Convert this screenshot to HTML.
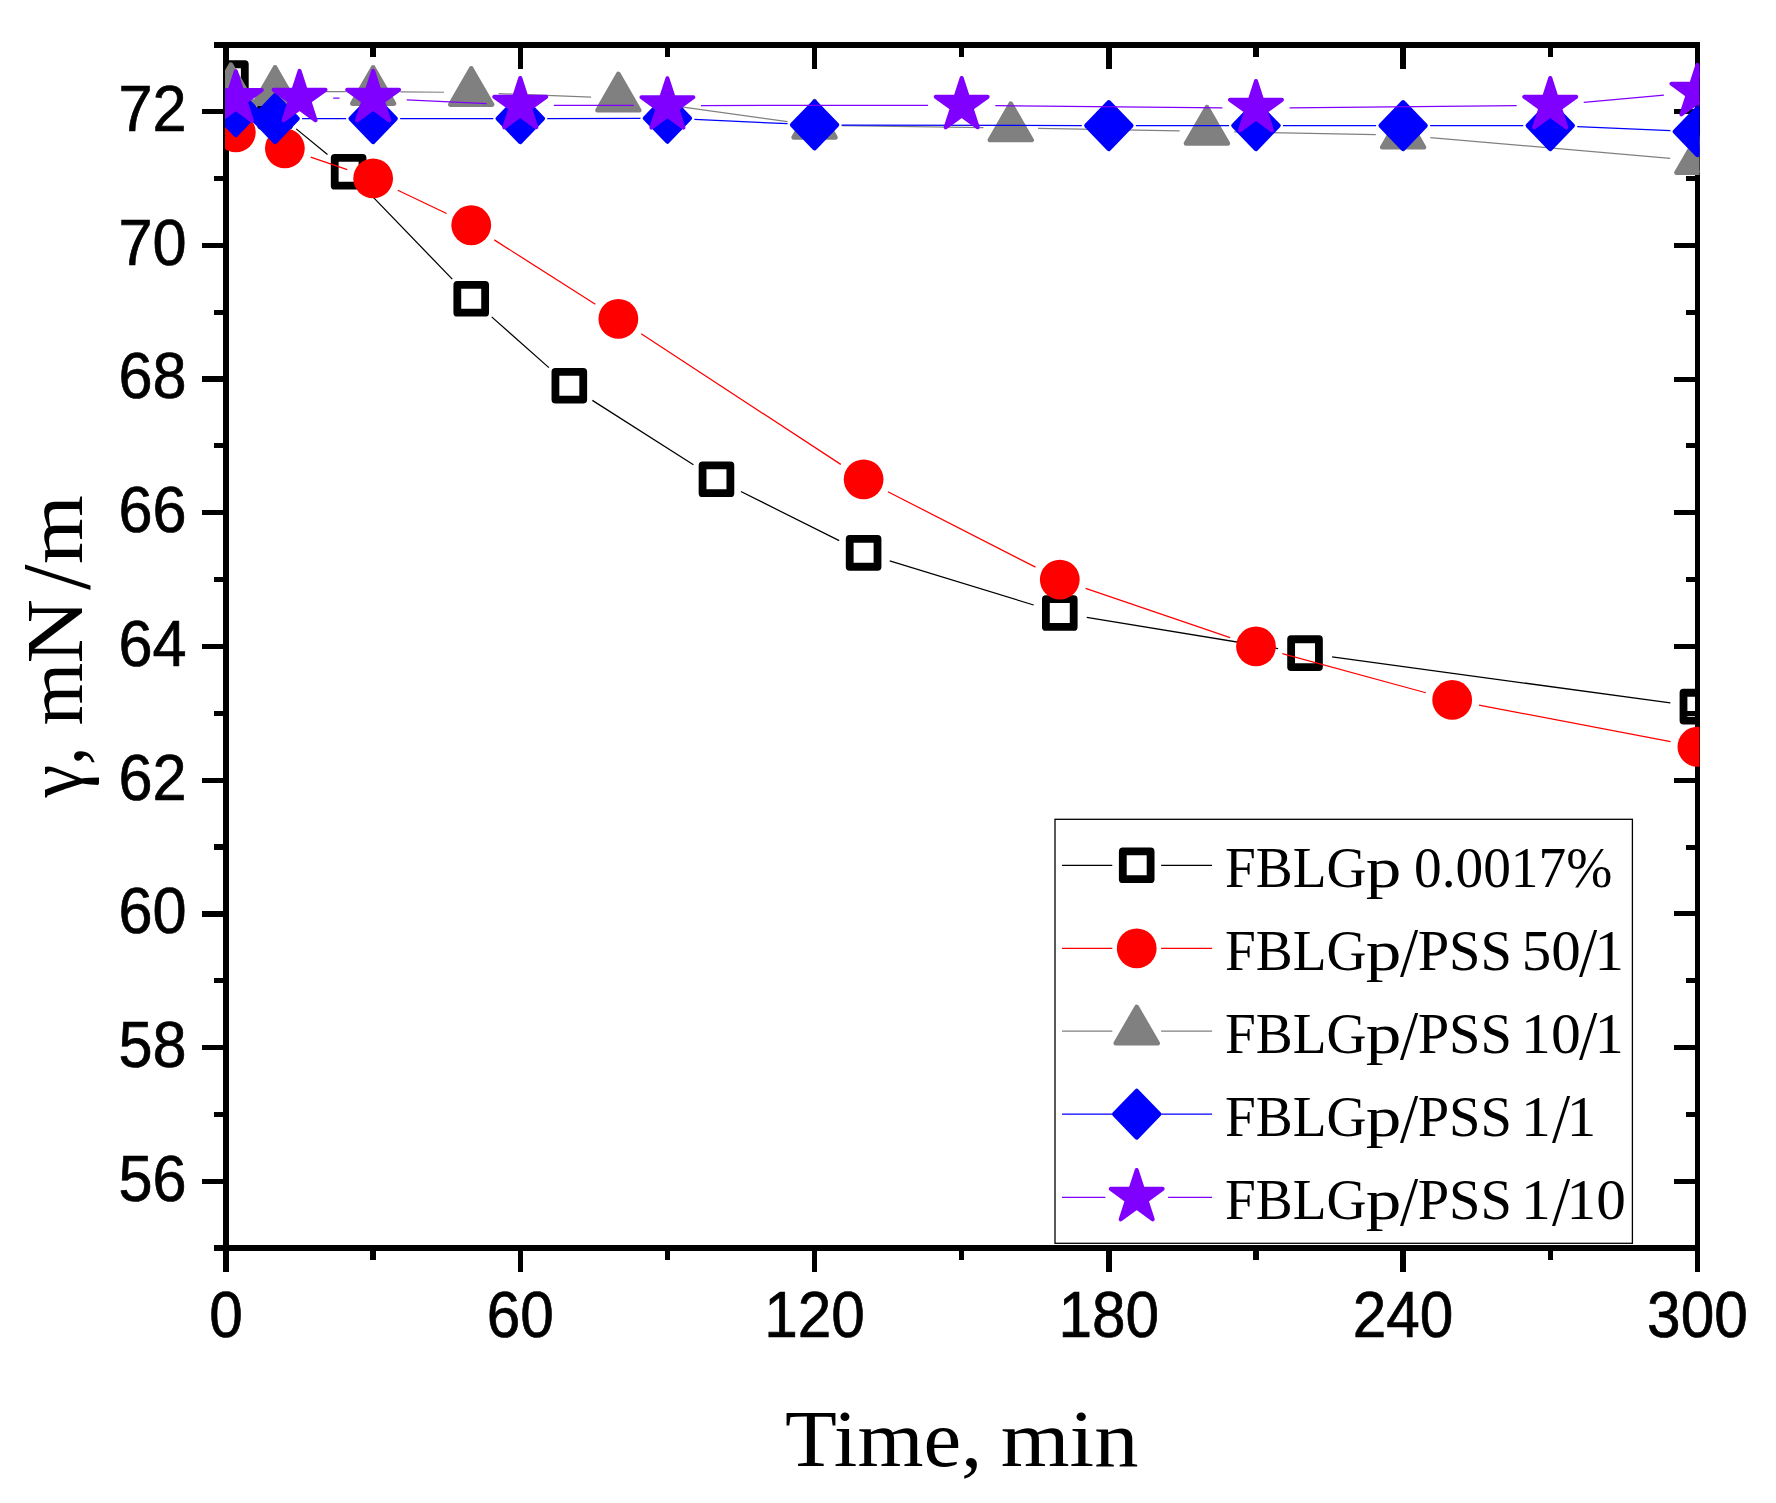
<!DOCTYPE html>
<html lang="en"><head><meta charset="utf-8"><title>Dynamic surface tension</title>
<style>html,body{margin:0;padding:0;background:#fff}svg{display:block}.tk{font-family:"Liberation Sans",sans-serif;font-size:65.4px;fill:#000;stroke:#000;stroke-width:0.7px}.sf{font-family:"Liberation Serif",serif;fill:#000}</style></head><body>
<svg width="1776" height="1503" viewBox="0 0 1776 1503">
<rect width="1776" height="1503" fill="#fff"/>
<g fill="#000" shape-rendering="crispEdges">
<rect x="214" y="42" width="1486" height="6"/>
<rect x="214" y="1245.3" width="1486" height="5.8"/>
<rect x="223.2" y="42" width="5.6" height="1229.7"/>
<rect x="1694.8" y="42" width="5.2" height="1229.7"/>
<rect x="202" y="1178.74" width="22" height="5.2"/>
<rect x="1674" y="1178.84" width="22" height="5"/>
<rect x="214" y="1111.88" width="10" height="5.2"/>
<rect x="1686" y="1111.98" width="10" height="5"/>
<rect x="202" y="1045.02" width="22" height="5.2"/>
<rect x="1674" y="1045.12" width="22" height="5"/>
<rect x="214" y="978.16" width="10" height="5.2"/>
<rect x="1686" y="978.26" width="10" height="5"/>
<rect x="202" y="911.30" width="22" height="5.2"/>
<rect x="1674" y="911.40" width="22" height="5"/>
<rect x="214" y="844.44" width="10" height="5.2"/>
<rect x="1686" y="844.54" width="10" height="5"/>
<rect x="202" y="777.58" width="22" height="5.2"/>
<rect x="1674" y="777.68" width="22" height="5"/>
<rect x="214" y="710.72" width="10" height="5.2"/>
<rect x="1686" y="710.82" width="10" height="5"/>
<rect x="202" y="643.86" width="22" height="5.2"/>
<rect x="1674" y="643.96" width="22" height="5"/>
<rect x="214" y="577.00" width="10" height="5.2"/>
<rect x="1686" y="577.10" width="10" height="5"/>
<rect x="202" y="510.14" width="22" height="5.2"/>
<rect x="1674" y="510.24" width="22" height="5"/>
<rect x="214" y="443.28" width="10" height="5.2"/>
<rect x="1686" y="443.38" width="10" height="5"/>
<rect x="202" y="376.42" width="22" height="5.2"/>
<rect x="1674" y="376.52" width="22" height="5"/>
<rect x="214" y="309.56" width="10" height="5.2"/>
<rect x="1686" y="309.66" width="10" height="5"/>
<rect x="202" y="242.70" width="22" height="5.2"/>
<rect x="1674" y="242.80" width="22" height="5"/>
<rect x="214" y="175.84" width="10" height="5.2"/>
<rect x="1686" y="175.94" width="10" height="5"/>
<rect x="202" y="108.98" width="22" height="5.2"/>
<rect x="1674" y="109.08" width="22" height="5"/>
<rect x="370.44" y="47" width="5.4" height="10"/>
<rect x="370.44" y="1250" width="5.4" height="9.8"/>
<rect x="517.58" y="47" width="5.4" height="22"/>
<rect x="517.58" y="1250" width="5.4" height="21.8"/>
<rect x="664.72" y="47" width="5.4" height="10"/>
<rect x="664.72" y="1250" width="5.4" height="9.8"/>
<rect x="811.86" y="47" width="5.4" height="22"/>
<rect x="811.86" y="1250" width="5.4" height="21.8"/>
<rect x="959.00" y="47" width="5.4" height="10"/>
<rect x="959.00" y="1250" width="5.4" height="9.8"/>
<rect x="1106.14" y="47" width="5.4" height="22"/>
<rect x="1106.14" y="1250" width="5.4" height="21.8"/>
<rect x="1253.28" y="47" width="5.4" height="10"/>
<rect x="1253.28" y="1250" width="5.4" height="9.8"/>
<rect x="1400.42" y="47" width="5.4" height="22"/>
<rect x="1400.42" y="1250" width="5.4" height="21.8"/>
<rect x="1547.56" y="47" width="5.4" height="10"/>
<rect x="1547.56" y="1250" width="5.4" height="9.8"/>
</g>
<defs><clipPath id="pc"><rect x="225" y="45" width="1474.5" height="1203.5"/></clipPath></defs>
<g clip-path="url(#pc)">
<path d="M252.67 94.63L253.28 95.10M296.18 128.86L327.48 154.47M367.58 191.40L452.27 279.15M491.67 316.89L548.89 367.60M592.36 400.36L693.43 464.66M740.89 491.52L839.19 540.65M889.71 560.86L1033.69 605.02M1086.74 617.44L1278.08 648.74M1332.08 656.83L1670.35 702.95" fill="none" stroke="#000" stroke-width="1.25"/>
<rect x="217.00" y="64.25" width="27.8" height="27.8" fill="none" stroke="#000" stroke-width="7.8" stroke-linejoin="round"/>
<rect x="261.15" y="97.68" width="27.8" height="27.8" fill="none" stroke="#000" stroke-width="7.8" stroke-linejoin="round"/>
<rect x="334.72" y="157.85" width="27.8" height="27.8" fill="none" stroke="#000" stroke-width="7.8" stroke-linejoin="round"/>
<rect x="457.33" y="284.89" width="27.8" height="27.8" fill="none" stroke="#000" stroke-width="7.8" stroke-linejoin="round"/>
<rect x="555.43" y="371.81" width="27.8" height="27.8" fill="none" stroke="#000" stroke-width="7.8" stroke-linejoin="round"/>
<rect x="702.57" y="465.41" width="27.8" height="27.8" fill="none" stroke="#000" stroke-width="7.8" stroke-linejoin="round"/>
<rect x="849.71" y="538.96" width="27.8" height="27.8" fill="none" stroke="#000" stroke-width="7.8" stroke-linejoin="round"/>
<rect x="1045.89" y="599.13" width="27.8" height="27.8" fill="none" stroke="#000" stroke-width="7.8" stroke-linejoin="round"/>
<rect x="1291.13" y="639.25" width="27.8" height="27.8" fill="none" stroke="#000" stroke-width="7.8" stroke-linejoin="round"/>
<rect x="1683.50" y="692.73" width="27.8" height="27.8" fill="none" stroke="#000" stroke-width="7.8" stroke-linejoin="round"/>
<path d="M310.70 157.16L347.30 169.63M397.78 190.20L446.59 213.49M494.27 239.90L595.34 304.19M641.22 333.79L840.76 464.36M887.91 491.74L1035.49 567.17M1085.63 588.41L1230.14 637.65M1282.32 653.64L1425.83 692.77M1478.98 705.07L1670.58 741.63" fill="none" stroke="#f00" stroke-width="1.25"/>
<circle cx="235.81" cy="132.31" r="19.9" fill="#f00"/>
<circle cx="284.86" cy="148.35" r="19.9" fill="#f00"/>
<circle cx="373.14" cy="178.44" r="19.9" fill="#f00"/>
<circle cx="471.23" cy="225.24" r="19.9" fill="#f00"/>
<circle cx="618.37" cy="318.85" r="19.9" fill="#f00"/>
<circle cx="863.61" cy="479.31" r="19.9" fill="#f00"/>
<circle cx="1059.79" cy="579.60" r="19.9" fill="#f00"/>
<circle cx="1255.98" cy="646.46" r="19.9" fill="#f00"/>
<circle cx="1452.17" cy="699.95" r="19.9" fill="#f00"/>
<circle cx="1697.40" cy="746.75" r="19.9" fill="#f00"/>
<path d="M302.35 91.52L345.84 91.52M400.44 91.80L443.93 92.25M498.51 93.58L591.09 97.15M645.42 101.94L787.52 121.55M841.86 125.66L983.45 127.59M1038.04 128.43L1179.64 130.84M1234.23 131.84L1375.83 134.64M1430.32 137.54L1670.20 158.30" fill="none" stroke="#808080" stroke-width="1.25"/>
<polygon points="230.90,64.65 251.86,100.95 209.95,100.95" fill="#808080" stroke="#808080" stroke-width="4.6" stroke-linejoin="round"/>
<polygon points="275.05,67.32 296.00,103.62 254.09,103.62" fill="#808080" stroke="#808080" stroke-width="4.6" stroke-linejoin="round"/>
<polygon points="373.14,67.32 394.10,103.62 352.18,103.62" fill="#808080" stroke="#808080" stroke-width="4.6" stroke-linejoin="round"/>
<polygon points="471.23,68.32 492.19,104.62 450.28,104.62" fill="#808080" stroke="#808080" stroke-width="4.6" stroke-linejoin="round"/>
<polygon points="618.37,74.01 639.33,110.31 597.42,110.31" fill="#808080" stroke="#808080" stroke-width="4.6" stroke-linejoin="round"/>
<polygon points="814.56,101.09 835.52,137.39 793.60,137.39" fill="#808080" stroke="#808080" stroke-width="4.6" stroke-linejoin="round"/>
<polygon points="1010.75,103.76 1031.70,140.06 989.79,140.06" fill="#808080" stroke="#808080" stroke-width="4.6" stroke-linejoin="round"/>
<polygon points="1206.93,107.10 1227.89,143.40 1185.98,143.40" fill="#808080" stroke="#808080" stroke-width="4.6" stroke-linejoin="round"/>
<polygon points="1403.12,110.98 1424.08,147.28 1382.16,147.28" fill="#808080" stroke="#808080" stroke-width="4.6" stroke-linejoin="round"/>
<polygon points="1697.40,136.46 1718.36,172.76 1676.44,172.76" fill="#808080" stroke="#808080" stroke-width="4.6" stroke-linejoin="round"/>
<path d="M302.05 118.60L346.14 118.60M400.14 118.60L493.28 118.60M547.28 118.54L640.42 118.33M694.39 119.49L787.59 123.73M841.56 125.01L1081.84 125.56M1135.84 125.62L1228.98 125.62M1282.98 125.62L1376.12 125.62M1430.12 125.62L1523.26 125.62M1577.24 126.72L1670.42 130.53" fill="none" stroke="#00f" stroke-width="1.25"/>
<polygon points="235.81,88.38 258.21,111.58 235.81,134.78 213.41,111.58" fill="#00f" stroke="#00f" stroke-width="4.6" stroke-linejoin="round"/>
<polygon points="275.05,95.40 297.45,118.60 275.05,141.80 252.65,118.60" fill="#00f" stroke="#00f" stroke-width="4.6" stroke-linejoin="round"/>
<polygon points="373.14,95.40 395.54,118.60 373.14,141.80 350.74,118.60" fill="#00f" stroke="#00f" stroke-width="4.6" stroke-linejoin="round"/>
<polygon points="520.28,95.40 542.68,118.60 520.28,141.80 497.88,118.60" fill="#00f" stroke="#00f" stroke-width="4.6" stroke-linejoin="round"/>
<polygon points="667.42,95.07 689.82,118.27 667.42,141.47 645.02,118.27" fill="#00f" stroke="#00f" stroke-width="4.6" stroke-linejoin="round"/>
<polygon points="814.56,101.75 836.96,124.95 814.56,148.15 792.16,124.95" fill="#00f" stroke="#00f" stroke-width="4.6" stroke-linejoin="round"/>
<polygon points="1108.84,102.42 1131.24,125.62 1108.84,148.82 1086.44,125.62" fill="#00f" stroke="#00f" stroke-width="4.6" stroke-linejoin="round"/>
<polygon points="1255.98,102.42 1278.38,125.62 1255.98,148.82 1233.58,125.62" fill="#00f" stroke="#00f" stroke-width="4.6" stroke-linejoin="round"/>
<polygon points="1403.12,102.42 1425.52,125.62 1403.12,148.82 1380.72,125.62" fill="#00f" stroke="#00f" stroke-width="4.6" stroke-linejoin="round"/>
<polygon points="1550.26,102.42 1572.66,125.62 1550.26,148.82 1527.86,125.62" fill="#00f" stroke="#00f" stroke-width="4.6" stroke-linejoin="round"/>
<polygon points="1697.40,108.44 1719.80,131.64 1697.40,154.84 1675.00,131.64" fill="#00f" stroke="#00f" stroke-width="4.6" stroke-linejoin="round"/>
<path d="M333.17 98.21L339.54 98.21M406.70 99.81L486.72 103.63M553.88 105.30L633.82 105.49M701.02 105.52L928.10 105.27M995.30 105.57L1222.38 107.89M1289.58 107.89L1516.66 105.57M1583.73 102.26L1663.93 95.16" fill="none" stroke="#8000ff" stroke-width="1.25"/>
<polygon points="235.81,71.18 241.94,90.04 261.77,90.04 245.73,101.70 251.86,120.56 235.81,108.90 219.76,120.56 225.89,101.70 209.85,90.04 229.68,90.04" fill="#8000ff" stroke="#8000ff" stroke-width="4" stroke-linejoin="round"/>
<polygon points="299.57,70.91 305.70,89.77 325.53,89.77 309.49,101.43 315.62,120.29 299.57,108.64 283.52,120.29 289.65,101.43 273.61,89.77 293.44,89.77" fill="#8000ff" stroke="#8000ff" stroke-width="4" stroke-linejoin="round"/>
<polygon points="373.14,70.91 379.27,89.77 399.10,89.77 383.06,101.43 389.19,120.29 373.14,108.64 357.09,120.29 363.22,101.43 347.18,89.77 367.01,89.77" fill="#8000ff" stroke="#8000ff" stroke-width="4" stroke-linejoin="round"/>
<polygon points="520.28,77.93 526.41,96.79 546.24,96.79 530.20,108.45 536.33,127.31 520.28,115.66 504.23,127.31 510.36,108.45 494.32,96.79 514.15,96.79" fill="#8000ff" stroke="#8000ff" stroke-width="4" stroke-linejoin="round"/>
<polygon points="667.42,78.26 673.55,97.13 693.38,97.13 677.34,108.78 683.47,127.65 667.42,115.99 651.37,127.65 657.50,108.78 641.46,97.13 661.29,97.13" fill="#8000ff" stroke="#8000ff" stroke-width="4" stroke-linejoin="round"/>
<polygon points="961.70,77.93 967.83,96.79 987.66,96.79 971.62,108.45 977.75,127.31 961.70,115.66 945.65,127.31 951.78,108.45 935.74,96.79 955.57,96.79" fill="#8000ff" stroke="#8000ff" stroke-width="4" stroke-linejoin="round"/>
<polygon points="1255.98,80.94 1262.11,99.80 1281.94,99.80 1265.90,111.46 1272.03,130.32 1255.98,118.66 1239.93,130.32 1246.06,111.46 1230.02,99.80 1249.85,99.80" fill="#8000ff" stroke="#8000ff" stroke-width="4" stroke-linejoin="round"/>
<polygon points="1550.26,77.93 1556.39,96.79 1576.22,96.79 1560.18,108.45 1566.31,127.31 1550.26,115.66 1534.21,127.31 1540.34,108.45 1524.30,96.79 1544.13,96.79" fill="#8000ff" stroke="#8000ff" stroke-width="4" stroke-linejoin="round"/>
<polygon points="1697.40,64.89 1703.53,83.75 1723.36,83.75 1707.32,95.41 1713.45,114.28 1697.40,102.62 1681.35,114.28 1687.48,95.41 1671.44,83.75 1691.27,83.75" fill="#8000ff" stroke="#8000ff" stroke-width="4" stroke-linejoin="round"/>
</g>
<text class="tk" transform="translate(186.7 1200.7) scale(0.937 1)" text-anchor="end">56</text>
<text class="tk" transform="translate(186.7 1067.0) scale(0.937 1)" text-anchor="end">58</text>
<text class="tk" transform="translate(186.7 933.3) scale(0.937 1)" text-anchor="end">60</text>
<text class="tk" transform="translate(186.7 799.6) scale(0.937 1)" text-anchor="end">62</text>
<text class="tk" transform="translate(186.7 665.9) scale(0.937 1)" text-anchor="end">64</text>
<text class="tk" transform="translate(186.7 532.1) scale(0.937 1)" text-anchor="end">66</text>
<text class="tk" transform="translate(186.7 398.4) scale(0.937 1)" text-anchor="end">68</text>
<text class="tk" transform="translate(186.7 264.7) scale(0.937 1)" text-anchor="end">70</text>
<text class="tk" transform="translate(186.7 131.0) scale(0.937 1)" text-anchor="end">72</text>
<text class="tk" transform="translate(226.0 1337.3) scale(0.922 1)" text-anchor="middle">0</text>
<text class="tk" transform="translate(520.3 1337.3) scale(0.922 1)" text-anchor="middle">60</text>
<text class="tk" transform="translate(814.6 1337.3) scale(0.922 1)" text-anchor="middle">120</text>
<text class="tk" transform="translate(1108.8 1337.3) scale(0.922 1)" text-anchor="middle">180</text>
<text class="tk" transform="translate(1403.1 1337.3) scale(0.922 1)" text-anchor="middle">240</text>
<text class="tk" transform="translate(1697.4 1337.3) scale(0.922 1)" text-anchor="middle">300</text>
<text class="sf"><tspan x="785.04" y="1466" font-size="80" textLength="197.28" lengthAdjust="spacingAndGlyphs">Time,</tspan><tspan font-size="10"> </tspan><tspan x="1000.69" y="1466" font-size="80" textLength="137.72" lengthAdjust="spacingAndGlyphs">min</tspan></text>
<text class="sf" transform="translate(81.6 797.6) rotate(-90)"><tspan x="0.00" y="0" font-size="80" textLength="51.15" lengthAdjust="spacingAndGlyphs">γ,</tspan><tspan font-size="10"> </tspan><tspan x="72.08" y="0" font-size="80" textLength="62.76" lengthAdjust="spacingAndGlyphs">m</tspan><tspan x="134.06" y="0" font-size="80" textLength="64.63" lengthAdjust="spacingAndGlyphs">N</tspan><tspan x="207.70" y="7.6" font-size="97.6" textLength="25.42" lengthAdjust="spacingAndGlyphs">/</tspan><tspan x="233.59" y="0" font-size="80" textLength="68.88" lengthAdjust="spacingAndGlyphs">m</tspan></text>
<text class="sf"><tspan x="1225.07" y="886.8" font-size="57.4" textLength="141.47" lengthAdjust="spacingAndGlyphs">FBLG</tspan><tspan x="1365.76" y="886.8" font-size="57.4" textLength="35.59" lengthAdjust="spacingAndGlyphs">p</tspan><tspan font-size="10"> </tspan><tspan x="1414.07" y="886.8" font-size="57.4" textLength="198.21" lengthAdjust="spacingAndGlyphs">0.0017%</tspan></text>
<text class="sf"><tspan x="1225.07" y="969.6" font-size="57.4" textLength="141.47" lengthAdjust="spacingAndGlyphs">FBLG</tspan><tspan x="1365.76" y="969.6" font-size="57.4" textLength="35.59" lengthAdjust="spacingAndGlyphs">p</tspan><tspan x="1399.90" y="975.5" font-size="69.2" textLength="18.22" lengthAdjust="spacingAndGlyphs">/</tspan><tspan x="1417.63" y="969.6" font-size="57.4" textLength="94.28" lengthAdjust="spacingAndGlyphs">PSS</tspan><tspan font-size="10"> </tspan><tspan x="1521.82" y="969.6" font-size="57.4" textLength="58.94" lengthAdjust="spacingAndGlyphs">50</tspan><tspan x="1578.90" y="975.5" font-size="69.2" textLength="18.22" lengthAdjust="spacingAndGlyphs">/</tspan><tspan x="1594.58" y="969.6" font-size="57.4" textLength="29.42" lengthAdjust="spacingAndGlyphs">1</tspan></text>
<text class="sf"><tspan x="1225.07" y="1052.8" font-size="57.4" textLength="141.47" lengthAdjust="spacingAndGlyphs">FBLG</tspan><tspan x="1365.76" y="1052.8" font-size="57.4" textLength="35.59" lengthAdjust="spacingAndGlyphs">p</tspan><tspan x="1399.90" y="1058.7" font-size="69.2" textLength="18.22" lengthAdjust="spacingAndGlyphs">/</tspan><tspan x="1417.63" y="1052.8" font-size="57.4" textLength="94.28" lengthAdjust="spacingAndGlyphs">PSS</tspan><tspan font-size="10"> </tspan><tspan x="1521.11" y="1052.8" font-size="57.4" textLength="59.57" lengthAdjust="spacingAndGlyphs">10</tspan><tspan x="1579.00" y="1058.7" font-size="69.2" textLength="18.32" lengthAdjust="spacingAndGlyphs">/</tspan><tspan x="1594.75" y="1052.8" font-size="57.4" textLength="28.99" lengthAdjust="spacingAndGlyphs">1</tspan></text>
<text class="sf"><tspan x="1225.07" y="1136.0" font-size="57.4" textLength="141.47" lengthAdjust="spacingAndGlyphs">FBLG</tspan><tspan x="1365.76" y="1136.0" font-size="57.4" textLength="35.59" lengthAdjust="spacingAndGlyphs">p</tspan><tspan x="1399.90" y="1141.9" font-size="69.2" textLength="18.22" lengthAdjust="spacingAndGlyphs">/</tspan><tspan x="1417.63" y="1136.0" font-size="57.4" textLength="94.28" lengthAdjust="spacingAndGlyphs">PSS</tspan><tspan font-size="10"> </tspan><tspan x="1521.10" y="1136.0" font-size="57.4" textLength="29.85" lengthAdjust="spacingAndGlyphs">1</tspan><tspan x="1551.90" y="1141.9" font-size="69.2" textLength="18.22" lengthAdjust="spacingAndGlyphs">/</tspan><tspan x="1566.67" y="1136.0" font-size="57.4" textLength="29.42" lengthAdjust="spacingAndGlyphs">1</tspan></text>
<text class="sf"><tspan x="1225.07" y="1218.8" font-size="57.4" textLength="141.47" lengthAdjust="spacingAndGlyphs">FBLG</tspan><tspan x="1365.76" y="1218.8" font-size="57.4" textLength="35.59" lengthAdjust="spacingAndGlyphs">p</tspan><tspan x="1399.90" y="1224.7" font-size="69.2" textLength="18.22" lengthAdjust="spacingAndGlyphs">/</tspan><tspan x="1417.63" y="1218.8" font-size="57.4" textLength="94.28" lengthAdjust="spacingAndGlyphs">PSS</tspan><tspan font-size="10"> </tspan><tspan x="1521.10" y="1218.8" font-size="57.4" textLength="29.85" lengthAdjust="spacingAndGlyphs">1</tspan><tspan x="1551.90" y="1224.7" font-size="69.2" textLength="18.22" lengthAdjust="spacingAndGlyphs">/</tspan><tspan x="1566.64" y="1218.8" font-size="57.4" textLength="59.23" lengthAdjust="spacingAndGlyphs">10</tspan></text>
<rect x="1055" y="819.3" width="577.4" height="424" fill="none" stroke="#000" stroke-width="1.3"/>
<path d="M1062 865.3L1112.3 865.3M1161.1 865.3L1212.1 865.3" stroke="#000" stroke-width="1.25" fill="none"/>
<rect x="1122.80" y="851.40" width="27.8" height="27.8" fill="none" stroke="#000" stroke-width="7.8" stroke-linejoin="round"/>
<path d="M1062 948.4L1112.3 948.4M1161.1 948.4L1212.1 948.4" stroke="#f00" stroke-width="1.25" fill="none"/>
<circle cx="1136.70" cy="948.40" r="19.9" fill="#f00"/>
<path d="M1062 1031.1L1112.3 1031.1M1161.1 1031.1L1212.1 1031.1" stroke="#808080" stroke-width="1.25" fill="none"/>
<polygon points="1136.70,1006.90 1157.66,1043.20 1115.74,1043.20" fill="#808080" stroke="#808080" stroke-width="4.6" stroke-linejoin="round"/>
<path d="M1062 1114.2L1112.3 1114.2M1161.1 1114.2L1212.1 1114.2" stroke="#00f" stroke-width="1.25" fill="none"/>
<polygon points="1136.70,1091.00 1159.10,1114.20 1136.70,1137.40 1114.30,1114.20" fill="#00f" stroke="#00f" stroke-width="4.6" stroke-linejoin="round"/>
<path d="M1062 1197.3L1105.3 1197.3M1168.1 1197.3L1212.1 1197.3" stroke="#8000ff" stroke-width="1.25" fill="none"/>
<polygon points="1136.70,1170.00 1142.83,1188.86 1162.66,1188.86 1146.62,1200.52 1152.75,1219.39 1136.70,1207.73 1120.65,1219.39 1126.78,1200.52 1110.74,1188.86 1130.57,1188.86" fill="#8000ff" stroke="#8000ff" stroke-width="4" stroke-linejoin="round"/>
</svg></body></html>
